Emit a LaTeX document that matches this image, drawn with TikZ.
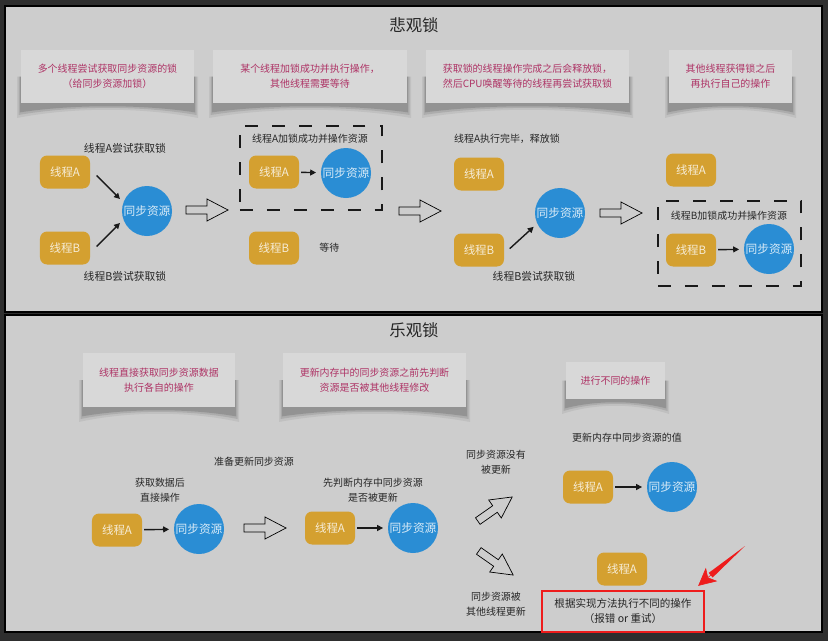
\documentclass[tikz,border=0pt]{standalone}
\usepackage{fontspec}
\setmainfont{Noto Sans CJK SC}
\usepackage{tikz}
\usetikzlibrary{arrows.meta,positioning,calc,backgrounds}
\usepackage{xcolor}
\definecolor{frame0}{HTML}{2E2E2E}
\definecolor{panel0}{HTML}{CDCDCD}
\definecolor{card0}{HTML}{D8D8D8}
\definecolor{gold0}{HTML}{D4A030}
\definecolor{blue0}{HTML}{2A8DD4}
\definecolor{note0}{HTML}{AE3466}
\definecolor{alert0}{HTML}{EE1C1C}

\begin{document}
\begin{tikzpicture}[x=0.03cm,y=-0.03cm,
    thread/.style={fill=gold0,rounded corners=6pt,minimum width=1.5cm,minimum height=0.99cm,inner sep=0pt,font=\fontsize{9.8}{12}\selectfont,text=gold0!20!white},
    res/.style={circle,fill=blue0,minimum size=1.5cm,inner sep=0pt,font=\fontsize{10}{12}\selectfont,text=blue0!18!white},
    card/.style={fill=card0,inner sep=0pt,align=center,font=\fontsize{8.5}{12.75}\selectfont,text=note0},
    lbl/.style={inner sep=0pt,align=center,font=\fontsize{8.5}{12.75}\selectfont,text=black!85},
    lblbig/.style={lbl,font=\fontsize{9.2}{12}\selectfont},
    title/.style={font=\fontsize{14}{16}\selectfont,text=black!85},
    arr/.style={-{Triangle[length=5pt,width=5pt]},line width=1.2pt,black!90,shorten <=1.7pt,shorten >=4pt},
    lockbox/.style={draw=black!90,line width=2.5pt,dash pattern=on 11pt off 12pt},
    hollow/.pic={\draw[fill=panel0,line width=0.6pt,line join=miter] (-21,-4) -- (0,-4) -- (0,-11) -- (21,0) -- (0,11) -- (0,4) -- (-21,4) -- cycle;}
]
\useasboundingbox (0,0) rectangle (828,641);
\begin{scope}[on background layer]
\fill[frame0] (0,0) rectangle (828,641);
\draw[fill=panel0,line width=1.5pt] (5,6) rectangle (822,312);
\draw[fill=panel0,line width=1.5pt] (5,315) rectangle (822,632);
\end{scope}

% note cards with curled shadows
\foreach \nm/\cx/\cy/\w/\h/\txt in {
    c1/107.5/76.5/173/53/{多个线程尝试获取同步资源的锁\\（给同步资源加锁）},
    c2/310/76.5/194/53/{某个线程加锁成功并执行操作，\\其他线程需要等待},
    c3/527.5/76.5/203/53/{获取锁的线程操作完成之后会释放锁，\\然后CPU唤醒等待的线程再尝试获取锁},
    c4/730.5/76.5/123/53/{其他线程获得锁之后\\再执行自己的操作},
    d1/159/380/152/54/{线程直接获取同步资源数据\\执行各自的操作},
    d2/374.5/380/183/54/{更新内存中的同步资源之前先判断\\资源是否被其他线程修改},
    d3/615.5/380.5/99/37/{进行不同的操作}} {
  \foreach \s/\op in {4/0.06,2.5/0.10,1.2/0.14}
    \fill[black,opacity=\op] ({\cx-\w/2-\s},{\cy}) -- ({\cx-\w/2-\s},{\cy+\h/2+7+2*\s})
      .. controls ({\cx-0.2*\w},{\cy+\h/2+\s}) and ({\cx+0.2*\w},{\cy+\h/2+\s})
      .. ({\cx+\w/2+\s},{\cy+\h/2+7+2*\s}) -- ({\cx+\w/2+\s},{\cy}) -- cycle;
  \node[card,minimum width=\w*0.03cm,minimum height=\h*0.03cm] (\nm) at (\cx,\cy) {\txt};
}

% pessimistic lock
\node[title] (pess) at (414,25) {悲观锁};

\node[thread] (ta1) at (65,172) {线程A};
\node[thread] (tb1) at (65,248) {线程B};
\node[res] (r1) at (147,211) {同步资源};
\node[lblbig] (la1) at (125,148) {线程A尝试获取锁};
\node[lblbig] (lb1) at (125,276) {线程B尝试获取锁};
\draw[arr] ($(ta1.east)+(5,2)$) -- (r1.160);
\draw[arr] ($(tb1.east)+(5,0)$) -- (r1.200);
\pic at (207,210) {hollow};

\node[lockbox,minimum width=4.26cm,minimum height=2.52cm] (lk2) at (311,168) {};
\node[lbl] (la2) at (310,139) {线程A加锁成功并操作资源};
\node[thread] (ta2) at (274,172) {线程A};
\node[res] (r2) at (346,173) {同步资源};
\node[thread] (tb2) at (274,248) {线程B};
\node[lbl,right=0.6cm of tb2] (wt2) {等待};
\draw[arr] (ta2) -- (r2);
\pic at (420,211) {hollow};

\node[lbl] (la3) at (507,139) {线程A执行完毕，释放锁};
\node[thread] (ta3) at (479,174) {线程A};
\node[res] (r3) at (560,213) {同步资源};
\node[thread] (tb3) at (479,250) {线程B};
\node[lblbig] (lb3) at (534,276) {线程B尝试获取锁};
\draw[arr] ($(tb3.east)+(4,0)$) -- (r3.205);
\pic at (621,213) {hollow};

\node[thread] (ta4) at (691,170) {线程A};
\node[lockbox,minimum width=4.29cm,minimum height=2.55cm] (lk4) at (729.5,243.5) {};
\node[lbl] (lb4) at (729,216) {线程B加锁成功并操作资源};
\node[thread] (tb4) at (691,250) {线程B};
\node[res] (r4) at (769,249) {同步资源};
\draw[arr] (tb4) -- (r4);

% optimistic lock
\node[title] (opti) at (414,330) {乐观锁};

\node[lbl] (prep) at (254,462) {准备更新同步资源};
\node[lbl] (get) at (160,490) {获取数据后\\直接操作};
\node[thread] (ta5) at (117,530) {线程A};
\node[res] (r5) at (199,529) {同步资源};
\draw[arr] (ta5) -- (r5);
\pic at (265,528) {hollow};

\node[lbl] (chk) at (373,490) {先判断内存中同步资源\\是否被更新};
\node[thread] (ta6) at (330,528) {线程A};
\node[res] (r6) at (413,528) {同步资源};
\draw[arr] (ta6) -- (r6);

\node[lbl] (nochg) at (496,462) {同步资源没有\\被更新};
\pic[rotate=35] at (495,509) {hollow};
\pic[rotate=-35] at (496,563) {hollow};
\node[lbl] (chg) at (496,604) {同步资源被\\其他线程更新};

\node[lbl] (upd) at (627,438) {更新内存中同步资源的值};
\node[thread] (ta7) at (588,487) {线程A};
\node[res] (r7) at (672,487) {同步资源};
\draw[arr] (ta7) -- (r7);

\node[thread] (ta8) at (622,569) {线程A};
\node[lbl,draw=alert0,line width=2pt,minimum width=4.86cm,minimum height=1.23cm,font=\fontsize{9}{12.75}\selectfont] (redbox) at (623,611.5) {根据实现方法执行不同的操作\\（报错 or 重试）};
\coordinate (redtail) at (745,546);
\coordinate (redtip) at ($(redbox.north east)+(-7,-4)$);
\fill[alert0] (redtail) -- ($(redtip)!14pt!(redtail)!2.6pt!90:(redtail)$) -- ($(redtip)!14pt!(redtail)!2.6pt!-90:(redtail)$) -- cycle;
\draw[alert0,line width=0.5pt,-{Stealth[length=15pt,width=15pt,inset=4pt]}] ($(redtip)!16pt!(redtail)$) -- (redtip);
\end{tikzpicture}
\end{document}
